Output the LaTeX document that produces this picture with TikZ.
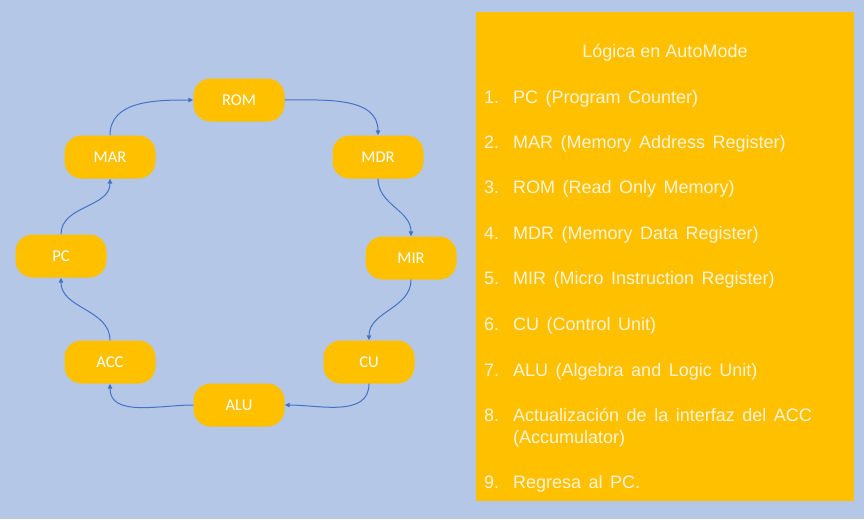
\documentclass[tikz,border=0pt]{standalone}
\usepackage{fontspec}
\setmainfont{Liberation Sans}
\newfontfamily\listfont{Liberation Sans}[WordSpace=1.5]
\newfontfamily\nodefont{Carlito}
\usetikzlibrary{arrows.meta}
\definecolor{bgblue}{HTML}{B4C7E7}
\definecolor{boxorange}{HTML}{FFC000}
\definecolor{arrblue}{HTML}{4472C4}
\definecolor{txtcream}{HTML}{FFF4D6}
\tikzset{
  regbox/.style={fill=boxorange, draw=none, rounded corners=17pt, minimum width=91pt, minimum height=43pt, inner sep=0pt, text=white, font=\nodefont\fontsize{16.5}{20}\selectfont},
  arr/.style={draw=arrblue, line width=1pt, -{Triangle[length=5pt,width=4.5pt]}},
  listtxt/.style={anchor=base west, inner sep=0pt, text=txtcream, font=\listfont\fontsize{18}{22}\selectfont},
  listnum/.style={anchor=base west, inner sep=0pt, text=txtcream, font=\fontsize{18}{22}\selectfont}
}
\begin{document}
\begin{tikzpicture}[x=1pt,y=-1pt]
\useasboundingbox (0,0) rectangle (864,519);
\fill[bgblue] (0,0) rectangle (864,519);
% nodes
\node[regbox] (ROM) at (239,100) {ROM};
\node[regbox] (MAR) at (110,157) {MAR};
\node[regbox] (MDR) at (378,157) {MDR};
\node[regbox] (PC)  at (61,256)  {PC};
\node[regbox] (MIR) at (411,258) {MIR};
\node[regbox] (ACC) at (110,362) {ACC};
\node[regbox] (CU)  at (369,362) {CU};
\node[regbox] (ALU) at (239,405) {ALU};
% connectors
\draw[arr] (MAR.north) to[out=90,in=180] (ROM.west);
\draw[arr] (ROM.east) to[out=0,in=90] (MDR.north);
\draw[arr] (MDR.south) to[out=-90,in=90] (MIR.north);
\draw[arr] (MIR.south) to[out=-90,in=90] (CU.north);
\draw[arr] (CU.south) to[out=-90,in=0] (ALU.east);
\draw[arr] (ALU.west) to[out=180,in=-90] (ACC.south);
\draw[arr] (ACC.north) to[out=90,in=-90] (PC.south);
\draw[arr] (PC.north) to[out=90,in=-90] (MAR.south);
% right panel
\node[fill=boxorange, draw=none, inner sep=0pt, minimum width=378pt, minimum height=489pt, anchor=north west] (panel) at (476,12) {};
\node[anchor=base, inner sep=0pt, text=txtcream, font=\fontsize{18}{22}\selectfont] (title) at (665,57) {Lógica en AutoMode};
\node[listnum] (n1) at (484,103) {1.}; \node[listtxt] (t1) at (513,103) {PC (Program Counter)};
\node[listnum] (n2) at (484,148) {2.}; \node[listtxt] (t2) at (513,148) {MAR (Memory Address Register)};
\node[listnum] (n3) at (484,193) {3.}; \node[listtxt] (t3) at (513,193) {ROM (Read Only Memory)};
\node[listnum] (n4) at (484,239) {4.}; \node[listtxt] (t4) at (513,239) {MDR (Memory Data Register)};
\node[listnum] (n5) at (484,284) {5.}; \node[listtxt] (t5) at (513,284) {MIR (Micro Instruction Register)};
\node[listnum] (n6) at (484,330) {6.}; \node[listtxt] (t6) at (513,330) {CU (Control Unit)};
\node[listnum] (n7) at (484,376) {7.}; \node[listtxt] (t7) at (513,376) {ALU (Algebra and Logic Unit)};
\node[listnum] (n8) at (484,421) {8.}; \node[listtxt] (t8) at (513,421) {Actualización de la interfaz del ACC};
\node[listtxt] (t8b) at (513,443) {(Accumulator)};
\node[listnum] (n9) at (484,488) {9.}; \node[listtxt] (t9) at (513,488) {Regresa al PC.};
\end{tikzpicture}
\end{document}
